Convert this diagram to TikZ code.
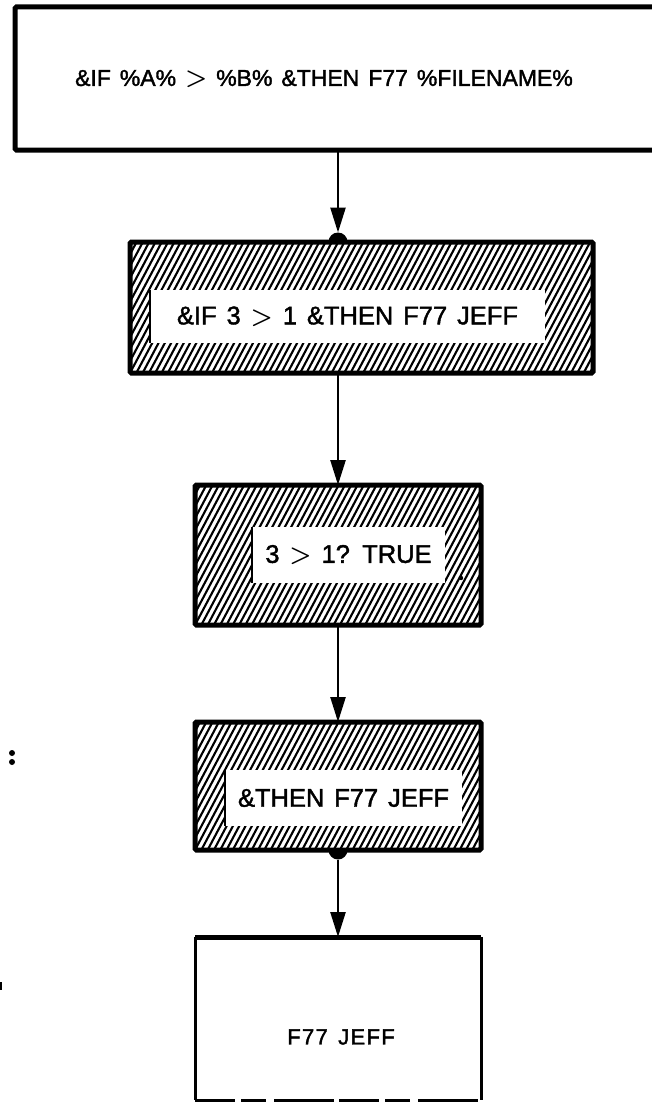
\documentclass[tikz,border=0pt]{standalone}
\usepackage{fontspec}
\setmainfont{Liberation Sans}[WordSpace=1.4, FakeBold=1.6]
\usetikzlibrary{arrows.meta}

\tikzset{
  stage/.style={draw=black, line width=5pt, fill=white, inner sep=0pt,
    outer sep=0pt, rounded corners=1.5pt},
  hatched/.style={path picture={
    \foreach \k in {-20,...,80}
      \draw[line width=2.1pt, line cap=butt]
        ([xshift={\k*6.3pt}]path picture bounding box.south west) -- ++(85pt,160pt);
  }},
  window/.style={fill=white, inner sep=0pt, outer sep=0pt,
    font=\fontsize{25.5}{30}\selectfont\boldmath},
  caption/.style={inner sep=0pt, outer sep=0pt},
  flow/.style={line width=2.5pt, -{Triangle[length=25pt,width=15pt]}},
}

\begin{document}
\begin{tikzpicture}[x=1pt,y=-1pt]
  \clip (0,0) rectangle (652,1105);
  \fill[white] (0,0) rectangle (652,1105);

  % template line
  \node[stage, minimum width=665pt, minimum height=143pt] (b1) at (347.5,78.5) {};
  \node[caption, font=\fontsize{23}{27}\selectfont\boldmath] (t1) at (324,79)
    {\&IF \%A\% $>$ \%B\% \&THEN F77 \%FILENAME\%};

  % substituted line
  \node[stage, hatched, minimum width=463pt, minimum height=131pt] (b2) at (361.5,307.5) {};
  \node[window, minimum width=395pt, minimum height=53pt] (w2) at (347.5,316.5)
    {\&IF 3 $>$ 1 \&THEN F77 JEFF};

  % condition test
  \node[stage, hatched, minimum width=286pt, minimum height=140pt] (b3) at (338,555) {};
  \node[window, minimum width=193pt, minimum height=56pt] (w3) at (348.5,555)
    {3 $>$ 1? TRUE};

  % THEN part
  \node[stage, hatched, minimum width=286pt, minimum height=128pt] (b4) at (338,786) {};
  \node[window, minimum width=237pt, minimum height=56pt] (w4) at (343.5,798)
    {\&THEN F77 JEFF};

  % resulting command
  \node[caption, minimum width=286pt, minimum height=163pt] (b5) at (338,1018.5) {};
  \node[caption, font=\fontsize{22}{26}\selectfont\addfontfeatures{LetterSpace=6}] (t5) at (341,1037) {F77 JEFF};
  \draw[line width=5pt] (b5.north west) -- (b5.north east);
  \draw[line width=3pt] (b5.north west) -- (b5.south west);
  \draw[line width=3pt] (b5.north east) -- (b5.south east);
  \draw[line width=3pt, dash pattern=on 40pt off 6pt on 25pt off 8pt on 60pt off 5pt]
    (b5.south west) -- (b5.south east);

  % shaded edges of the text windows
  \foreach \w in {w2,w3,w4}
    \draw[line width=1.2pt] (\w.north west) -- (\w.south west);

  % junction knobs
  \fill (b2.north -| b3.north) ++(-9.5pt,0) arc[start angle=180, end angle=0, radius=9.5pt] -- cycle;
  \fill (b4.south) ++(-9.5pt,0) arc[start angle=180, end angle=360, radius=9.5pt] -- cycle;

  % flow
  \draw[flow] (b1.south -| b3.north) -- ([yshift=9.5pt]b2.north -| b3.north);
  \draw[flow] (b2.south -| b3.north) -- (b3.north);
  \draw[flow] (b3.south) -- (b4.north);
  \draw[flow] ([yshift=-9.5pt]b4.south) -- (b5.north);

  % small specks
  \fill (461,578) circle (2.2pt);
  \fill (12,753) circle (3pt);
  \fill (12,762) circle (3pt);
  \fill (0,982) rectangle (2,990);
\end{tikzpicture}
\end{document}
